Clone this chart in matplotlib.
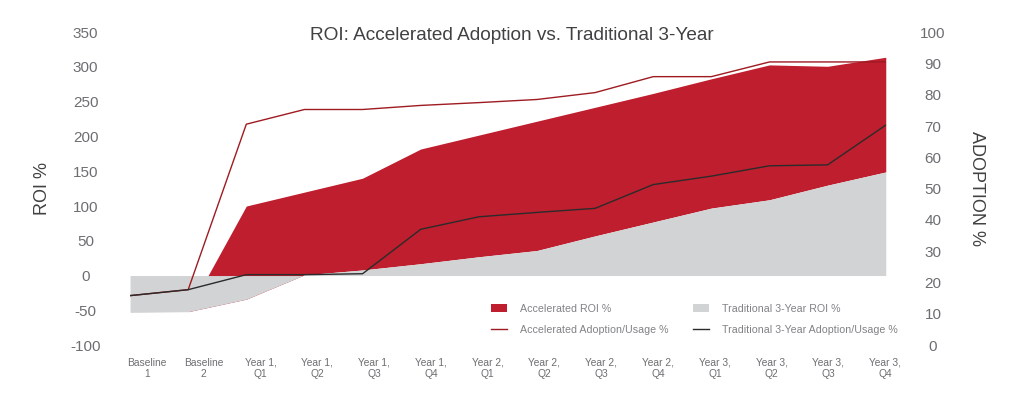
import numpy as np
import matplotlib
matplotlib.use("Agg")
import matplotlib.pyplot as plt

plt.rcParams['font.family'] = ['Liberation Sans', 'DejaVu Sans']
plt.rcParams['axes.unicode_minus'] = False

categories = ['Baseline\n1', 'Baseline\n2', 'Year 1,\nQ1', 'Year 1,\nQ2', 'Year 1,\nQ3', 'Year 1,\nQ4',
              'Year 2,\nQ1', 'Year 2,\nQ2', 'Year 2,\nQ3', 'Year 2,\nQ4',
              'Year 3,\nQ1', 'Year 3,\nQ2', 'Year 3,\nQ3', 'Year 3,\nQ4']

acc_roi = [-53, -52, 100, 120, 140, 182, 202, 222, 242, 262, 283, 303, 301, 314]
trad_roi = [-53, -52, -34, 1, 8, 17, 27, 36, 57, 77, 97, 109, 130, 149]
acc_adoption = [15.8, 17.7, 70.6, 75.3, 75.3, 76.6, 77.5, 78.5, 80.7, 85.8, 85.8, 90.5, 90.5, 90.5]
trad_adoption = [15.8, 17.7, 22.5, 22.5, 22.8, 37.0, 41.0, 42.4, 43.7, 51.3, 54.0, 57.3, 57.6, 70.3]

red = '#be1e2d'
gray = '#d1d3d4'
txt = '#6d6e71'

x = np.arange(len(categories))

fig = plt.figure(figsize=(10.24, 3.93), dpi=100)
ax = fig.add_axes([0.127, 0.122, 0.738, 0.796])
ax2 = ax.twinx()

ax.fill_between(x, trad_roi, acc_roi, color=red, lw=0, label='Accelerated ROI %')
ax.fill_between(x, 0, trad_roi, color=gray, lw=0, label='Traditional 3-Year ROI %')

ax2.plot(x, acc_adoption, color='#9e1b22', lw=1.0, label='Accelerated Adoption/Usage %')
ax2.plot(x, trad_adoption, color='#2b2b2b', lw=1.0, label='Traditional 3-Year Adoption/Usage %')

ax.set_xlim(0, len(categories) - 1)
ax.set_ylim(-100, 350)
ax.set_yticks(np.arange(-100, 351, 50))
ax2.set_ylim(0, 100)
ax2.set_yticks(np.arange(0, 101, 10))

# labels sit a little right of the data points in the original
ax.set_xticks(np.arange(len(categories)) * 0.977 + 0.29)
ax.set_xticklabels(categories, fontsize=7.4, color=txt, linespacing=1.15)

for a in (ax, ax2):
    for s in a.spines.values():
        s.set_visible(False)
    a.tick_params(length=0)

ax.tick_params(axis='x', pad=9)
ax.tick_params(axis='y', labelsize=11, labelcolor=txt, pad=32)
ax2.tick_params(axis='y', labelsize=11, labelcolor=txt, pad=34)
for lab in ax.get_yticklabels():
    lab.set_ha('center')
for lab in ax2.get_yticklabels():
    lab.set_ha('center')

ax.set_ylabel('ROI %', fontsize=13, color='#414042', va='center')
ax.yaxis.set_label_coords(-0.116, 0.5)
ax2.set_ylabel('ADOPTION %', fontsize=13, color='#414042', rotation=-90, va='center')
ax2.yaxis.set_label_coords(1.12, 0.5)

fig.text(0.5, 1 - 35 / 393, 'ROI: Accelerated Adoption vs. Traditional 3-Year',
         ha='center', va='center', fontsize=13.7, color='#414042')

h1, l1 = ax.get_legend_handles_labels()
h2, l2 = ax2.get_legend_handles_labels()
handles = [h1[0], h2[0], h1[1], h2[1]]
labels = [l1[0], l2[0], l1[1], l2[1]]
leg = ax2.legend(handles, labels, ncol=2, frameon=False, fontsize=7.7, loc='upper left',
                 bbox_to_anchor=(0.4795, 0.227), bbox_transform=fig.transFigure,
                 borderpad=0, handlelength=1.5, handleheight=0.65, handletextpad=1.2,
                 labelspacing=1.05, columnspacing=2.3, borderaxespad=0)
for t in leg.get_texts():
    t.set_color('#808285')

fig.savefig('out.png', dpi=100)
